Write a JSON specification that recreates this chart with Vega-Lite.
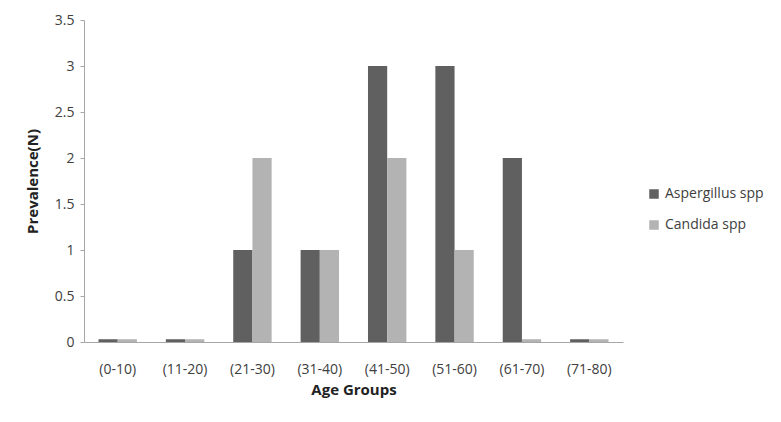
{
  "$schema": "https://vega.github.io/schema/vega-lite/v6.json",
  "width": 539,
  "height": 322,
  "autosize": {"type": "none"},
  "padding": {"left": 84, "top": 20, "right": 158, "bottom": 80},
  "background": "white",
  "config": {
    "view": {"stroke": null},
    "font": "Open Sans",
    "axis": {"labelFont": "Open Sans", "titleFont": "Open Sans", "labelColor": "#404040", "titleColor": "#222222", "domainColor": "#a6a6a6", "tickColor": "#a6a6a6", "grid": false}
  },
  "data": {
    "values": [
      {"group": "(0-10)", "species": "Aspergillus spp", "value": 0.03},
      {"group": "(0-10)", "species": "Candida spp", "value": 0.03},
      {"group": "(11-20)", "species": "Aspergillus spp", "value": 0.03},
      {"group": "(11-20)", "species": "Candida spp", "value": 0.03},
      {"group": "(21-30)", "species": "Aspergillus spp", "value": 1},
      {"group": "(21-30)", "species": "Candida spp", "value": 2},
      {"group": "(31-40)", "species": "Aspergillus spp", "value": 1},
      {"group": "(31-40)", "species": "Candida spp", "value": 1},
      {"group": "(41-50)", "species": "Aspergillus spp", "value": 3},
      {"group": "(41-50)", "species": "Candida spp", "value": 2},
      {"group": "(51-60)", "species": "Aspergillus spp", "value": 3},
      {"group": "(51-60)", "species": "Candida spp", "value": 1},
      {"group": "(61-70)", "species": "Aspergillus spp", "value": 2},
      {"group": "(61-70)", "species": "Candida spp", "value": 0.03},
      {"group": "(71-80)", "species": "Aspergillus spp", "value": 0.03},
      {"group": "(71-80)", "species": "Candida spp", "value": 0.03}
    ]
  },
  "mark": {"type": "bar"},
  "encoding": {
    "x": {
      "field": "group", "type": "nominal", "sort": null,
      "scale": {"paddingInner": 0.43, "paddingOuter": 0.215},
      "axis": {"title": "Age Groups", "labelAngle": 0, "labelFontSize": 14, "ticks": false, "labelPadding": 20, "titleFontSize": 15, "titleFontWeight": "bold", "titlePadding": 6}
    },
    "xOffset": {"field": "species", "type": "nominal"},
    "y": {
      "field": "value", "type": "quantitative",
      "scale": {"domain": [0, 3.5], "nice": false},
      "axis": {"title": "Prevalence(N)", "values": [0, 0.5, 1, 1.5, 2, 2.5, 3, 3.5], "format": "~g", "labelFontSize": 14, "tickSize": 4, "labelPadding": 6, "titleFontSize": 15, "titleFontWeight": "bold", "titlePadding": 14}
    },
    "color": {
      "field": "species", "type": "nominal",
      "scale": {"domain": ["Aspergillus spp", "Candida spp"], "range": ["#606060", "#b3b3b3"]},
      "legend": {"title": null, "orient": "none", "legendX": 563, "legendY": 167, "symbolType": "square", "symbolSize": 90, "symbolStrokeWidth": 0, "labelFontSize": 14, "labelColor": "#404040", "rowPadding": 17, "labelOffset": 4}
    }
  }
}
